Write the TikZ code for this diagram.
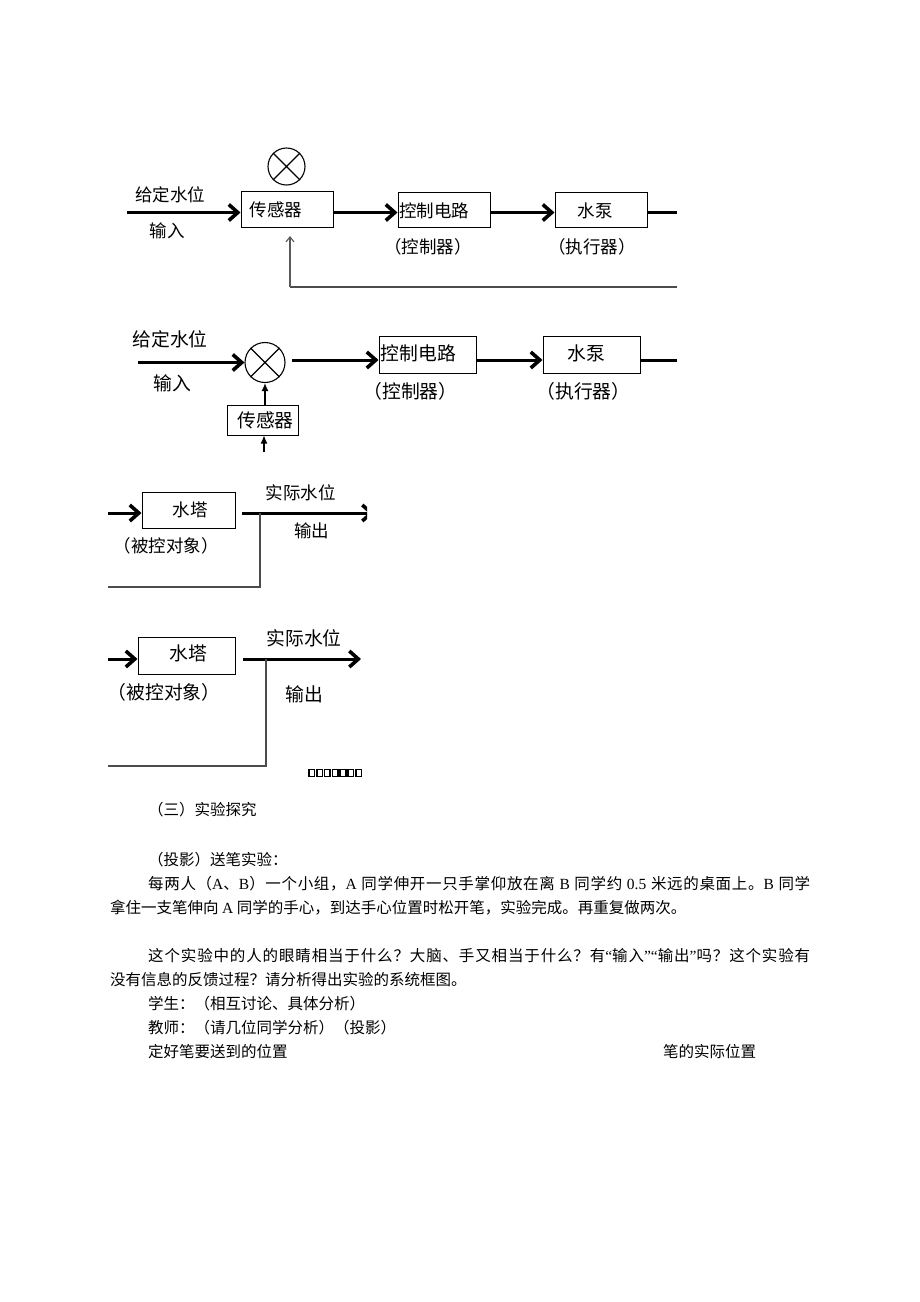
\documentclass[tikz,border=0pt]{standalone}
\usepackage{fontspec}
\setmainfont{Noto Sans CJK SC}
\newfontfamily\latf{Liberation Serif}
\usetikzlibrary{arrows.meta}
\newcount\cjkcnt
\cjkcnt="4E00
\loop \XeTeXcharclass\cjkcnt=1 \advance\cjkcnt by 1 \ifnum\cjkcnt<"A000 \repeat
\cjkcnt="3000
\loop \XeTeXcharclass\cjkcnt=1 \advance\cjkcnt by 1 \ifnum\cjkcnt<"3040 \repeat
\cjkcnt="FF00
\loop \XeTeXcharclass\cjkcnt=1 \advance\cjkcnt by 1 \ifnum\cjkcnt<"FF60 \repeat
\XeTeXinterchartokenstate=1
\XeTeXinterchartoks 1 1 = {\hskip 0pt plus 1pt\relax}
\begin{document}
\begin{tikzpicture}[x=1pt,y=-1pt,
  blk/.style={draw=black, line width=1pt, inner sep=0pt},
  circ/.style={circle, draw=black, line width=1.1pt, inner sep=0pt},
  la/.style={inner sep=0pt, font=\fontsize{17.5}{20}\selectfont},
  lb/.style={inner sep=0pt, font=\fontsize{18.8}{21}\selectfont},
  body/.style={inner sep=0pt, anchor=west, font=\fontsize{15.5}{18}\selectfont},
  mainline/.style={line width=3pt},
  mainarrow/.style={line width=3pt, -{Straight Barb[length=9pt,width=16pt,line width=3.6pt]}},
  fbline/.style={line width=1.1pt, draw=black!70},
  fbarrow/.style={line width=1.1pt, draw=black!65, -{Straight Barb[length=5pt,width=8pt]}},
  uparrow/.style={line width=1.3pt, -{Latex[length=8pt,width=7pt]}}
]
\useasboundingbox (0,0) rectangle (920,1302);
\fill[white] (0,0) rectangle (920,1302);

% ---------------- Diagram 1 ----------------
\node[la] (d1give) at (170,195) {给定水位};
\node[la] (d1in) at (167,231) {输入};
\node[blk, minimum width=92pt, minimum height=36pt] (d1s) at (287,209.5) {};
\node[la] (d1st) at (276,210) {传感器};
\node[circ, minimum size=37pt] (d1c) at (286.5,166.5) {};
\draw[line width=1.1pt] (d1c.north west) -- (d1c.south east) (d1c.north east) -- (d1c.south west);
\coordinate (d1a) at (127,212.5);
\draw[mainarrow] (d1a) -- (d1a -| d1s.west);
\node[blk, minimum width=92pt, minimum height=35pt] (d1k) at (444,209.5) {};
\node[la] (d1kt) at (434,210.5) {控制电路};
\node[la] (d1kl) at (428,247) {（控制器）};
\draw[mainarrow] (d1s.east |- d1a) -- (d1k.west |- d1a);
\node[blk, minimum width=92pt, minimum height=35pt] (d1p) at (601,209.5) {};
\node[la] (d1pt) at (595,210.5) {水泵};
\node[la] (d1pl) at (592,247) {（执行器）};
\draw[mainarrow] (d1k.east |- d1a) -- (d1p.west |- d1a);
\coordinate (d1o) at (677,212.5);
\draw[mainline] (d1p.east |- d1o) -- (d1o);
\coordinate (d1f1) at (677,287);
\coordinate (d1f2) at (290,287);
\coordinate (d1f3) at (290,236);
\draw[fbline] (d1f1) -- (d1f2);
\draw[fbarrow] (d1f2) -- (d1f3);

% ---------------- Diagram 2 ----------------
\node[lb] (d2give) at (170,339) {给定水位};
\node[lb] (d2in) at (172,383) {输入};
\node[circ, minimum size=40pt] (d2c) at (265,362.5) {};
\draw[line width=1.1pt] (d2c.north west) -- (d2c.south east) (d2c.north east) -- (d2c.south west);
\coordinate (d2a) at (138,362.5);
\draw[mainarrow] (d2a) -- (d2c.west);
\node[blk, minimum width=97pt, minimum height=37pt] (d2k) at (427.5,354.5) {};
\node[lb] (d2kt) at (418.5,353) {控制电路};
\node[lb] (d2kl) at (410.5,391) {（控制器）};
\coordinate (d2m) at (292,360);
\draw[mainarrow] (d2m) -- (d2k.west |- d2m);
\node[blk, minimum width=97pt, minimum height=37pt] (d2p) at (591.5,354.5) {};
\node[lb] (d2pt) at (586,353) {水泵};
\node[lb] (d2pl) at (583.5,391) {（执行器）};
\draw[mainarrow] (d2k.east |- d2m) -- (d2p.west |- d2m);
\coordinate (d2o) at (677,360);
\draw[mainline] (d2p.east |- d2o) -- (d2o);
\node[blk, minimum width=71pt, minimum height=30pt] (d2s) at (262.5,420) {};
\node[lb] (d2st) at (265.5,420) {传感器};
\draw[uparrow] (d2c.south |- d2s.north) -- (d2c.south);
\coordinate (d2b) at (264,452);
\draw[uparrow] (d2b) -- (d2b |- d2s.south);

% ---------------- Diagram 3 ----------------
\coordinate (d3a) at (108,513);
\node[blk, minimum width=93pt, minimum height=36pt] (d3t) at (188.5,510) {};
\node[la] (d3tt) at (190,510) {水塔};
\node[la] (d3tl) at (166,546) {（被控对象）};
\draw[mainarrow] (d3a) -- (d3a -| d3t.west);
\coordinate (d3o) at (242,513);
\coordinate (d3e) at (374,513);
\begin{scope}
\clip (100,470) rectangle (367,600);
\draw[mainarrow] (d3o) -- (d3e);
\end{scope}
\node[la] (d3ol) at (300.5,493) {实际水位};
\node[la] (d3oo) at (311.5,531) {输出};
\coordinate (d3f1) at (260,513);
\coordinate (d3f2) at (260,587);
\coordinate (d3f3) at (108,587);
\draw[fbline] (d3f1) -- (d3f2) -- (d3f3);

% ---------------- Diagram 4 ----------------
\coordinate (d4a) at (108,659);
\node[blk, minimum width=97pt, minimum height=37pt] (d4t) at (186.5,655.5) {};
\node[lb] (d4tt) at (188.5,653) {水塔};
\node[lb] (d4tl) at (164,692) {（被控对象）};
\draw[mainarrow] (d4a) -- (d4a -| d4t.west);
\coordinate (d4o) at (243,659);
\coordinate (d4e) at (361,659);
\draw[mainarrow] (d4o) -- (d4e);
\node[lb] (d4ol) at (304,638) {实际水位};
\node[lb] (d4oo) at (304.5,694) {输出};
\coordinate (d4f1) at (266,659);
\coordinate (d4f2) at (266,766);
\coordinate (d4f3) at (108,766);
\draw[fbline] (d4f1) -- (d4f2) -- (d4f3);
\foreach \i in {0,...,6}{
  \draw[line width=1.6pt] (309+\i*7.8,769.5) rectangle (314.5+\i*7.8,776.5);
}

% ---------------- Text ----------------
\node[body] (t1) at (148,810) {（三）实验探究};
\node[body] (t2) at (148,860) {（投影）送笔实验：};
\node[body] (t3) at (148,884) {\hbox to 662pt{每两人（{\latf A}、{\latf B}）一个小组，{\latf A} 同学伸开一只手掌仰放在离 {\latf B} 同学约 {\latf 0.5} 米远的桌面上。{\latf B} 同学}};
\node[body] (t4) at (110,908) {拿住一支笔伸向 {\latf A} 同学的手心，到达手心位置时松开笔，实验完成。再重复做两次。};
\node[body] (t5) at (148,956) {\hbox to 662pt{这个实验中的人的眼睛相当于什么？大脑、手又相当于什么？有{\latf “}输入{\latf ”“}输出{\latf ”}吗？这个实验有}};
\node[body] (t6) at (110,980) {没有信息的反馈过程？请分析得出实验的系统框图。};
\node[body] (t7) at (148,1004) {学生：（相互讨论、具体分析）};
\node[body] (t8) at (148,1028) {教师：（请几位同学分析）（投影）};
\node[body] (t9) at (148,1052) {定好笔要送到的位置};
\node[body] (t10) at (663,1052) {笔的实际位置};
\end{tikzpicture}
\end{document}
